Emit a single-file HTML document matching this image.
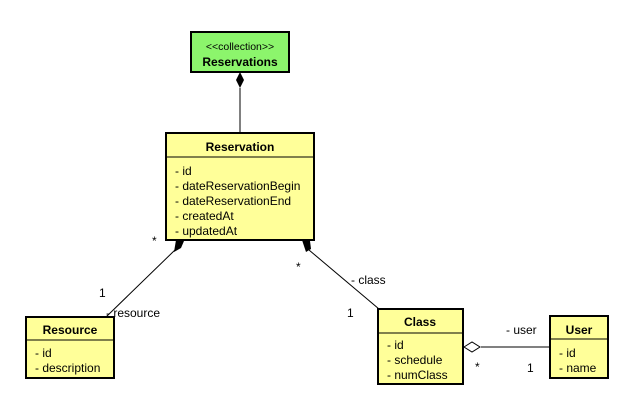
<html><body style="margin:0;background:#fff">
<svg width="624" height="409" xmlns="http://www.w3.org/2000/svg" font-family="Liberation Sans, sans-serif" font-size="12">
<rect width="624" height="409" fill="#fff"/>
<!-- Reservations -->
<rect x="191" y="32" width="98" height="40" fill="#8cf56c" stroke="#000" stroke-width="2"/>
<text x="240" y="50" text-anchor="middle" font-size="10.5">&lt;&lt;collection&gt;&gt;</text>
<text x="240" y="66" text-anchor="middle" font-weight="bold">Reservations</text>
<line x1="240" y1="88" x2="240" y2="133" stroke="#000"/>
<polygon points="240,72 244,80 240,88 236,80" fill="#000"/>
<!-- Reservation -->
<rect x="166" y="133" width="148" height="107" fill="#ffff99" stroke="#000" stroke-width="2"/>
<line x1="166" y1="157" x2="314" y2="157" stroke="#000"/>
<text x="240" y="151" text-anchor="middle" font-weight="bold">Reservation</text>
<text x="175" y="175">- id</text>
<text x="175" y="190">- dateReservationBegin</text>
<text x="175" y="205">- dateReservationEnd</text>
<text x="175" y="220">- createdAt</text>
<text x="175" y="235">- updatedAt</text>
<!-- Resource link -->
<line x1="106" y1="317" x2="176" y2="249" stroke="#000"/>
<polygon points="176,240 184,241 181,248 174,252" fill="#000"/>
<text x="152" y="245">*</text>
<text x="99" y="297">1</text>
<text x="106" y="317">- resource</text>
<!-- Class link -->
<line x1="379" y1="309" x2="309" y2="250" stroke="#000"/>
<polygon points="302,240 310,241 311,249 306,252" fill="#000"/>
<text x="296" y="271">*</text>
<text x="351" y="284">- class</text>
<text x="347" y="317">1</text>
<!-- Resource -->
<rect x="26" y="317" width="88" height="61" fill="#ffff99" stroke="#000" stroke-width="2"/>
<line x1="26" y1="340" x2="114" y2="340" stroke="#000"/>
<text x="70" y="334" text-anchor="middle" font-weight="bold">Resource</text>
<text x="35" y="357">- id</text>
<text x="35" y="372">- description</text>
<!-- Class -->
<rect x="378" y="309" width="85" height="75" fill="#ffff99" stroke="#000" stroke-width="2"/>
<line x1="378" y1="333" x2="463" y2="333" stroke="#000"/>
<text x="420" y="326" text-anchor="middle" font-weight="bold">Class</text>
<text x="387" y="349">- id</text>
<text x="387" y="364">- schedule</text>
<text x="387" y="379">- numClass</text>
<!-- User link -->
<line x1="481" y1="347" x2="550" y2="347" stroke="#000"/>
<polygon points="464,347 472,342 480,347 472,352" fill="#fff" stroke="#000"/>
<text x="506" y="334">- user</text>
<text x="475" y="371">*</text>
<text x="527" y="372">1</text>
<!-- User -->
<rect x="550" y="316" width="58" height="62" fill="#ffff99" stroke="#000" stroke-width="2"/>
<line x1="550" y1="339" x2="608" y2="339" stroke="#000"/>
<text x="579" y="334" text-anchor="middle" font-weight="bold">User</text>
<text x="559" y="357">- id</text>
<text x="559" y="372">- name</text>
</svg>
</body></html>
